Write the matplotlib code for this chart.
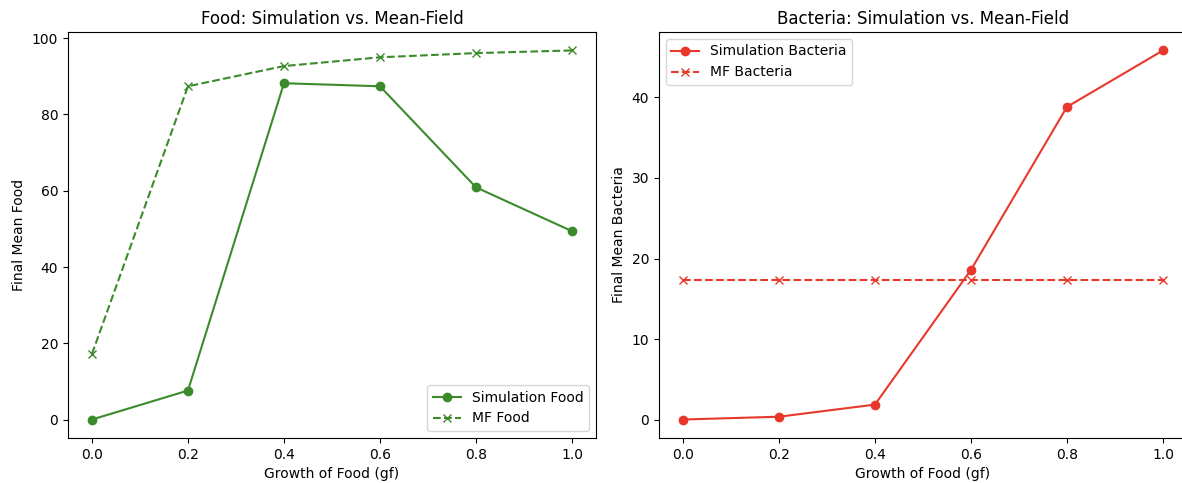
import matplotlib
matplotlib.use("Agg")
import matplotlib.pyplot as plt

gf = [0.0, 0.2, 0.4, 0.6, 0.8, 1.0]
sim_food = [0.0, 7.6, 88.2, 87.4, 60.9, 49.4]
mf_food = [17.2, 87.4, 92.7, 95.0, 96.1, 96.8]
sim_bacteria = [0.05, 0.4, 1.9, 18.6, 38.8, 45.8]
mf_bacteria = [17.4, 17.4, 17.4, 17.4, 17.4, 17.4]

green = "#3b8a2c"
red = "#e8382b"

fig = plt.figure(figsize=(11.82, 4.83), dpi=100)
ax1 = fig.add_axes([0.0575, 0.0932, 0.4467, 0.8406])
ax2 = fig.add_axes([0.5575, 0.0932, 0.4467, 0.8406])

ax1.plot(gf, sim_food, "-o", color=green, label="Simulation Food")
ax1.plot(gf, mf_food, "--x", color=green, label="MF Food")
ax1.set_title("Food: Simulation vs. Mean-Field")
ax1.set_xlabel("Growth of Food (gf)")
ax1.set_ylabel("Final Mean Food")
ax1.legend(loc="lower right")

ax2.plot(gf, sim_bacteria, "-o", color=red, label="Simulation Bacteria")
ax2.plot(gf, mf_bacteria, "--x", color=red, label="MF Bacteria")
ax2.set_title("Bacteria: Simulation vs. Mean-Field")
ax2.set_xlabel("Growth of Food (gf)")
ax2.set_ylabel("Final Mean Bacteria")
ax2.legend(loc="upper left")

fig.savefig("out.png", dpi=100)
